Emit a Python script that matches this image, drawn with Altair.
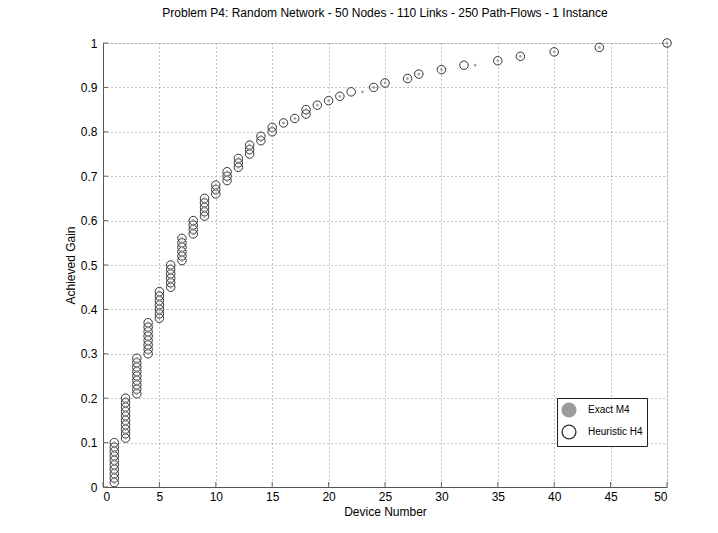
import altair as alt
import pandas as pd

gains = [
    0.01, 0.02, 0.03, 0.04, 0.05, 0.06, 0.07, 0.08, 0.09, 0.10,
    0.11, 0.12, 0.13, 0.14, 0.15, 0.16, 0.17, 0.18, 0.19, 0.20,
    0.21, 0.22, 0.23, 0.24, 0.25, 0.26, 0.27, 0.28, 0.29, 0.30,
    0.31, 0.32, 0.33, 0.34, 0.35, 0.36, 0.37, 0.38, 0.39, 0.40,
    0.41, 0.42, 0.43, 0.44, 0.45, 0.46, 0.47, 0.48, 0.49, 0.50,
    0.51, 0.52, 0.53, 0.54, 0.55, 0.56, 0.57, 0.58, 0.59, 0.60,
    0.61, 0.62, 0.63, 0.64, 0.65, 0.66, 0.67, 0.68, 0.69, 0.70,
    0.71, 0.72, 0.73, 0.74, 0.75, 0.76, 0.77, 0.78, 0.79, 0.80,
    0.81, 0.82, 0.83, 0.84, 0.85, 0.86, 0.87, 0.88, 0.89, 0.90,
    0.91, 0.92, 0.93, 0.94, 0.95, 0.96, 0.97, 0.98, 0.99, 1.00,
]

heuristic_devices = [
    1, 1, 1, 1, 1, 1, 1, 1, 1, 1,
    2, 2, 2, 2, 2, 2, 2, 2, 2, 2,
    3, 3, 3, 3, 3, 3, 3, 3, 3,
    4, 4, 4, 4, 4, 4, 4, 4,
    5, 5, 5, 5, 5, 5, 5,
    6, 6, 6, 6, 6, 6,
    7, 7, 7, 7, 7, 7,
    8, 8, 8, 8,
    9, 9, 9, 9, 9,
    10, 10, 10,
    11, 11, 11,
    12, 12, 12,
    13, 13, 13,
    14, 14,
    15, 15,
    16, 17, 18, 18, 19, 20, 21, 22, 24, 25,
    27, 28, 30, 32, 35, 37, 40, 44, 50,
]

exact_devices = [
    1, 1, 1, 1, 1, 1, 1, 1, 1, 1,
    2, 2, 2, 2, 2, 2, 2, 2, 2, 2,
    3, 3, 3, 3, 3, 3, 3, 3, 3,
    4, 4, 4, 4, 4, 4, 4, 4,
    5, 5, 5, 5, 5, 5, 5,
    6, 6, 6, 6, 6, 6,
    7, 7, 7, 7, 7, 7,
    8, 8, 8, 8,
    9, 9, 9, 9, 9,
    10, 10, 10,
    11, 11, 11,
    12, 12, 12,
    13, 13, 13,
    14, 14,
    15, 15,
    16, 17, 18, 18, 19, 20, 21, 23, 24, 25,
    27, 28, 30, 33, 35, 37, 40, 44, 50,
]

x_ticks = [0, 5, 10, 15, 20, 25, 30, 35, 40, 45, 50]
y_ticks = [0, 0.1, 0.2, 0.3, 0.4, 0.5, 0.6, 0.7, 0.8, 0.9, 1]

series_names = ["Exact M4", "Heuristic H4"]

df_h = pd.DataFrame({"device": heuristic_devices, "gain": gains, "series": series_names[1]})
df_e = pd.DataFrame({"device": exact_devices, "gain": gains, "series": series_names[0]})
df_xt = pd.DataFrame({"t": x_ticks})
df_yt = pd.DataFrame({"t": y_ticks})

FONT = "Liberation Sans"
W, H = 564, 444

xs = alt.Scale(domain=[0, 50], nice=False, zero=False)
ys = alt.Scale(domain=[0, 1], nice=False, zero=False)

axis_common = dict(
    labelFont=FONT, labelFontSize=12, labelColor="black",
    titleFont=FONT, titleFontSize=12, titleFontWeight="normal", titleColor="black",
    domainColor="#555555", domainWidth=1, ticks=False,
    grid=True, gridColor="#8a8a8a", gridDash=[1, 3], gridWidth=1, gridOpacity=1,
)

x_axis = alt.Axis(values=x_ticks, title="Device Number", format="d", labelPadding=4,
                  titlePadding=4, **axis_common)
y_axis = alt.Axis(values=y_ticks, title="Achieved Gain", format="~g", labelPadding=6,
                  titlePadding=3, **axis_common)

fill_scale = alt.Scale(domain=series_names, range=["#9c9c9c", "transparent"])
stroke_scale = alt.Scale(domain=series_names, range=["#9c9c9c", "#333333"])

legend = alt.Legend(title=None, orient="none", legendX=454, legendY=355,
                    symbolType="circle", symbolSize=190, symbolStrokeWidth=1.4,
                    labelFontSize=10, labelFont=FONT, labelColor="black",
                    strokeColor="#222222", fillColor="white", padding=4,
                    rowPadding=2, labelOffset=11)

heur = alt.Chart(df_h).mark_point(shape="circle", size=72, strokeWidth=1, opacity=1).encode(
    x=alt.X("device:Q", scale=xs, axis=x_axis),
    y=alt.Y("gain:Q", scale=ys, axis=y_axis),
    fill=alt.Fill("series:N", scale=fill_scale, legend=legend),
    stroke=alt.Stroke("series:N", scale=stroke_scale, legend=legend),
)

exact = alt.Chart(df_e).mark_point(shape="circle", size=5, strokeWidth=0.5, opacity=1, filled=True).encode(
    x=alt.X("device:Q", scale=xs),
    y=alt.Y("gain:Q", scale=ys),
    fill=alt.Fill("series:N", scale=fill_scale, legend=legend),
    stroke=alt.Stroke("series:N", scale=stroke_scale, legend=legend),
)

xtick = alt.Chart(df_xt).mark_rule(color="#666666", strokeWidth=1).encode(
    x=alt.X("t:Q", scale=xs), y=alt.value(H), y2=alt.value(H - 5)
)
ytick = alt.Chart(df_yt).mark_rule(color="#666666", strokeWidth=1).encode(
    y=alt.Y("t:Q", scale=ys), x=alt.value(0), x2=alt.value(5)
)

chart = alt.layer(xtick, ytick, heur, exact).properties(
    width=W, height=H,
    autosize=alt.AutoSizeParams(type="none"),
    padding={"left": 103, "top": 43, "right": 51, "bottom": 46},
    title=alt.TitleParams(
        "Problem P4: Random Network - 50 Nodes - 110 Links - 250 Path-Flows - 1 Instance",
        font=FONT, fontSize=12, fontWeight="normal", color="black",
        anchor="middle", offset=17,
    ),
).configure_view(stroke=None).configure(background="white")

chart.save("out.html", embed_options={"renderer": "svg", "actions": False})
